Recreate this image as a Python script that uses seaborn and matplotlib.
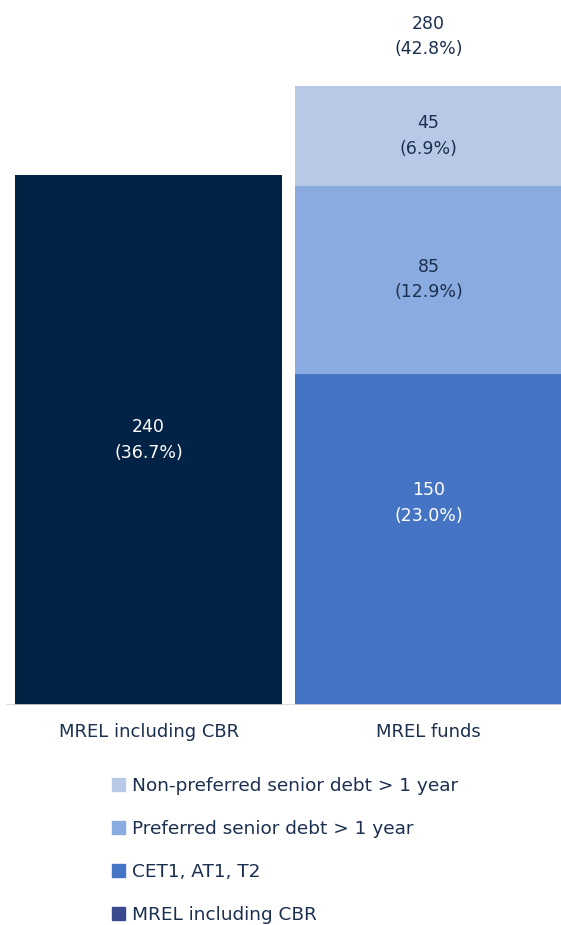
import seaborn as sns
import numpy as np
import pandas as pd
import matplotlib.pyplot as plt
from matplotlib.patches import Patch

# data
categories = ["MREL including CBR", "MREL funds"]
requirement = [240]
requirement_pct = [36.7]
segments = ["CET1, AT1, T2", "Preferred senior debt > 1 year", "Non-preferred senior debt > 1 year"]
segment_values = [150, 85, 45]
segment_pct = [23.0, 12.9, 6.9]
total_value = 280
total_pct = 42.8

seg_colors = ["#4674C4", "#8AABDF", "#B8C9E7"]
req_color = "#022246"
legend_req_color = "#3B4A8F"
text_color = "#1B2F4F"

sns.set_theme(style="white")
plt.rcParams["font.family"] = ["DejaVu Sans"]

fig = plt.figure(figsize=(5.61, 9.25), dpi=100)
ax = fig.add_axes([0.011, 0.2378, 0.989, 0.7622])

# left bar
df_req = pd.DataFrame({"cat": [categories[0]], "val": requirement})
sns.barplot(data=df_req, x="cat", y="val", order=categories, color=req_color,
            width=0.955, saturation=1, linewidth=0, ax=ax)

# right stacked bar (draw cumulative totals from the top down)
cum = np.cumsum(segment_values)
for i in reversed(range(len(segments))):
    df_seg = pd.DataFrame({"cat": [categories[1]], "val": [cum[i]]})
    sns.barplot(data=df_seg, x="cat", y="val", order=categories, color=seg_colors[i],
                width=0.955, saturation=1, linewidth=0, ax=ax)

# labels
ax.text(0, requirement[0] / 2, f"{requirement[0]}\n({requirement_pct[0]:.1f}%)",
        ha="center", va="center", color="white", fontsize=12.5, linespacing=1.55)
bottoms = np.concatenate([[0], cum[:-1]])
for i, (v, p) in enumerate(zip(segment_values, segment_pct)):
    y = bottoms[i] + v / 2
    if i == 0:
        y = bottoms[i] + v * 0.61
    ax.text(1, y, f"{v}\n({p:.1f}%)", ha="center", va="center",
            color="white" if i == 0 else text_color, fontsize=12.5, linespacing=1.55)
ax.text(1, total_value + 22.5, f"{total_value}\n({total_pct:.1f}%)", ha="center",
        va="center", color=text_color, fontsize=12.5, linespacing=1.55)

ax.set_xlim(-0.509, 1.473)
ax.set_ylim(0, 319)
ax.axhline(0, color="#D5D5D5", lw=1.2)
for s in ax.spines.values():
    s.set_visible(False)
ax.set_yticks([])
ax.set_xlabel("")
ax.set_ylabel("")
ax.tick_params(axis="x", length=0, pad=13, labelsize=13, labelcolor=text_color)

handles = [Patch(color=c) for c in reversed(seg_colors)] + [Patch(color=legend_req_color)]
labels = list(reversed(segments)) + [categories[0]]
fig.legend(handles, labels, loc="upper left", bbox_to_anchor=(0.183, 0.1705),
           frameon=False, handlelength=0.7, handleheight=0.7, handletextpad=0.4,
           labelspacing=1.36, fontsize=13.3, labelcolor=text_color, borderpad=0)

fig.savefig("out.png", dpi=100)
